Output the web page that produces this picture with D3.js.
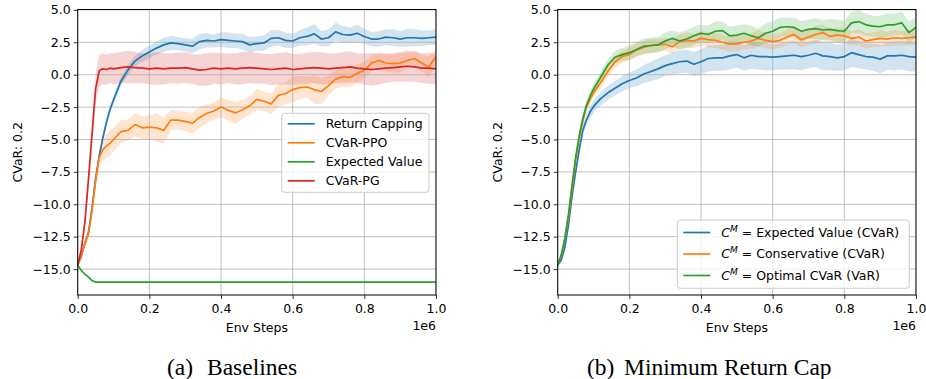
<!DOCTYPE html>
<html>
<head>
<meta charset="utf-8">
<script src="https://cdn.jsdelivr.net/npm/d3@7"></script>
<style>
body { margin: 0; background: #fff; }
text { font-family: "DejaVu Sans", sans-serif; fill: #000; }
</style>
</head>
<body>
<div id="chart"></div>
<script>
// env steps (x 1e6) shared by most runs
const steps = [0, 0.01, 0.02, 0.03, 0.04, 0.05, 0.06, 0.07, 0.08, 0.09, 0.10,
    0.12, 0.14, 0.16, 0.18, 0.20, 0.22, 0.24, 0.26, 0.28, 0.30,
    0.32, 0.34, 0.36, 0.38, 0.40, 0.42, 0.44, 0.46, 0.48, 0.50,
    0.52, 0.54, 0.56, 0.58, 0.60, 0.62, 0.64, 0.66, 0.68, 0.70,
    0.72, 0.74, 0.76, 0.78, 0.80, 0.82, 0.84, 0.86, 0.88, 0.90,
    0.92, 0.94, 0.96, 0.98, 1.00]

// (a) baselines
const returnCapping = [-14.7, -14.0, -13.0, -12.2, -10.3, -8.0, -6.3, -4.9, -3.7, -2.7, -1.95,
    -0.55, 0.35, 1.05, 1.45, 1.75, 2.05, 2.3, 2.45, 2.4, 2.3,
    2.2, 2.55, 2.65, 2.6, 2.7, 2.65, 2.6, 2.55, 2.3, 2.4,
    2.45, 2.8, 2.85, 2.65, 2.6, 2.85, 2.95, 3.15, 2.75, 2.85,
    3.3, 3.1, 3.05, 3.2, 2.95, 2.75, 2.75, 2.9, 2.85, 2.75,
    2.85, 2.85, 2.8, 2.85, 2.9]
const returnCappingSd = [0.1, 0.15, 0.2, 0.25, 0.3, 0.3, 0.3, 0.3, 0.35, 0.35, 0.35,
    0.35, 0.4, 0.4, 0.45, 0.5, 0.5, 0.55, 0.55, 0.5, 0.5,
    0.55, 0.6, 0.55, 0.5, 0.55, 0.6, 0.55, 0.6, 0.6, 0.55,
    0.6, 0.65, 0.6, 0.6, 0.55, 0.6, 0.7, 0.75, 0.6, 0.65,
    0.7, 0.65, 0.6, 0.65, 0.6, 0.55, 0.6, 0.6, 0.65, 0.6,
    0.7, 0.65, 0.6, 0.55, 0.6]

const cvarPPO = [-14.7, -14.0, -13.0, -12.3, -10.5, -8.2, -6.4, -5.8, -5.5, -5.3, -5.0,
    -4.4, -4.3, -3.85, -4.1, -4.05, -4.1, -4.3, -3.5, -3.5, -3.6,
    -3.75, -3.3, -3.0, -2.8, -2.5, -2.75, -2.95, -2.7, -2.4, -1.9,
    -2.05, -2.25, -1.6, -1.45, -1.15, -1.0, -0.95, -1.15, -1.3, -0.85,
    -0.35, -0.15, -0.2, 0.1, 0.35, 0.9, 1.1, 0.9, 0.85, 0.9,
    1.1, 1.25, 0.9, 0.6, 1.4]
const cvarPPOSd = [0.1, 0.2, 0.3, 0.4, 0.5, 0.6, 0.7, 0.8, 0.9, 1.0, 0.9,
    0.9, 0.8, 0.9, 0.85, 0.9, 1.1, 1.0, 0.8, 0.7, 0.75,
    0.8, 0.8, 0.7, 0.7, 0.75, 0.8, 0.85, 0.7, 0.7, 0.8,
    0.75, 0.8, 0.9, 0.85, 1.0, 0.9, 0.8, 1.1, 1.0, 0.8,
    0.7, 0.8, 0.75, 0.7, 0.65, 0.6, 0.6, 0.65, 0.7, 0.75,
    0.6, 0.6, 0.65, 0.8, 0.6]

const cvarPG = [-14.7, -13.5, -11.4, -8.1, -4.6, -1.1, 0.3, 0.45, 0.4, 0.5, 0.45,
    0.55, 0.6, 0.55, 0.5, 0.45, 0.5, 0.45, 0.5, 0.5, 0.55,
    0.45, 0.35, 0.4, 0.5, 0.45, 0.5, 0.45, 0.5, 0.55, 0.5,
    0.45, 0.4, 0.45, 0.5, 0.4, 0.45, 0.5, 0.55, 0.5, 0.45,
    0.5, 0.55, 0.6, 0.5, 0.45, 0.4, 0.45, 0.5, 0.55, 0.6,
    0.65, 0.6, 0.5, 0.5, 0.45]
const cvarPGSd = [0.1, 0.2, 0.4, 0.6, 0.9, 1.1, 1.2, 1.2, 1.15, 1.15, 1.2,
    1.2, 1.25, 1.2, 1.15, 1.2, 1.25, 1.2, 1.15, 1.2, 1.2,
    1.15, 1.2, 1.25, 1.2, 1.2, 1.15, 1.2, 1.25, 1.2, 1.2,
    1.15, 1.2, 1.2, 1.25, 1.2, 1.15, 1.2, 1.2, 1.25, 1.2,
    1.15, 1.2, 1.2, 1.15, 1.2, 1.25, 1.2, 1.15, 1.1, 1.15,
    1.2, 1.15, 1.15, 1.2, 1.15]

// expected value run is flat after the first drop
const expValSteps = [0, 0.01, 0.02, 0.03, 0.04, 0.05, 1.0]
const expVal = [-14.7, -15.1, -15.4, -15.6, -15.9, -16.0, -16.0]
const expValSd = [0.05, 0.05, 0.05, 0.05, 0.05, 0.05, 0.05]

// (b) minimum return cap
const capExpected = [-14.7, -14.3, -13.3, -11.6, -9.4, -7.5, -5.8, -4.3, -3.5, -2.9, -2.45,
    -1.85, -1.4, -1.05, -0.7, -0.45, -0.25, 0.05, 0.25, 0.45, 0.7,
    0.85, 1.0, 1.05, 0.8, 1.0, 1.25, 1.3, 1.3, 1.45, 1.55,
    1.3, 1.5, 1.4, 1.4, 1.35, 1.4, 1.45, 1.5, 1.4, 1.5,
    1.65, 1.45, 1.4, 1.3, 1.4, 1.7, 1.55, 1.4, 1.35, 1.2,
    1.45, 1.45, 1.5, 1.4, 1.35]
const capExpectedSd = [0.1, 0.15, 0.2, 0.25, 0.3, 0.35, 0.4, 0.4, 0.45, 0.45, 0.5,
    0.5, 0.55, 0.55, 0.6, 0.6, 0.65, 0.7, 0.75, 0.8, 0.8,
    0.85, 0.9, 0.9, 0.95, 0.95, 1.0, 1.0, 1.0, 1.05, 1.0,
    1.0, 1.05, 1.0, 1.05, 1.0, 1.0, 1.05, 1.1, 1.05, 1.0,
    1.05, 1.1, 1.05, 1.0, 1.05, 1.1, 1.05, 1.0, 1.05, 1.1,
    1.05, 1.1, 1.1, 1.15, 1.1]

const capConservative = [-14.7, -14.0, -12.7, -11.0, -8.8, -6.6, -4.9, -3.6, -2.5, -1.9, -1.4,
    -0.6, 0.25, 1.0, 1.4, 1.55, 1.9, 2.1, 2.25, 2.3, 2.35,
    2.15, 2.55, 2.65, 2.6, 2.8, 2.7, 2.65, 2.5, 2.35, 2.4,
    2.5, 2.6, 2.8, 2.65, 2.55, 2.65, 2.9, 3.1, 2.7, 2.9,
    3.1, 3.25, 2.95, 3.05, 3.0, 2.8, 2.9, 2.6, 2.7, 2.8,
    2.75, 2.85, 2.8, 2.85, 2.9]
const capConservativeSd = [0.1, 0.15, 0.2, 0.25, 0.3, 0.3, 0.3, 0.3, 0.35, 0.35, 0.35,
    0.4, 0.4, 0.45, 0.45, 0.5, 0.5, 0.5, 0.55, 0.5, 0.5,
    0.55, 0.55, 0.6, 0.55, 0.55, 0.6, 0.6, 0.55, 0.6, 0.6,
    0.55, 0.6, 0.65, 0.6, 0.6, 0.55, 0.6, 0.65, 0.6, 0.6,
    0.65, 0.6, 0.55, 0.6, 0.6, 0.55, 0.6, 0.6, 0.55, 0.6,
    0.55, 0.6, 0.55, 0.6, 0.55]

const capOptimal = [-14.7, -13.9, -12.6, -10.8, -8.5, -6.4, -4.7, -3.4, -2.4, -1.7, -1.1,
    -0.2, 0.75, 1.35, 1.55, 1.7, 1.95, 2.2, 2.25, 2.3, 2.6,
    2.8, 2.6, 2.75, 3.0, 3.2, 3.1, 3.35, 3.4, 3.0, 3.05,
    3.2, 3.0, 2.85, 3.2, 3.35, 3.65, 3.7, 3.65, 3.35, 3.5,
    3.55, 3.45, 3.5, 3.4, 3.35, 4.0, 4.1, 3.85, 3.75, 3.7,
    3.85, 3.85, 4.0, 3.25, 3.65]
const capOptimalSd = [0.1, 0.15, 0.2, 0.25, 0.3, 0.3, 0.35, 0.35, 0.4, 0.4, 0.4,
    0.45, 0.45, 0.5, 0.5, 0.55, 0.55, 0.6, 0.6, 0.6, 0.65,
    0.6, 0.65, 0.7, 0.7, 0.65, 0.7, 0.75, 0.7, 0.7, 0.75,
    0.7, 0.75, 0.7, 0.75, 0.8, 0.75, 0.7, 0.75, 0.8, 0.75,
    0.8, 0.75, 0.8, 0.85, 0.8, 0.85, 0.9, 0.85, 0.8, 0.85,
    0.9, 0.85, 0.9, 0.85, 0.8]

const xTicks = [0, 0.2, 0.4, 0.6, 0.8, 1.0]
const yTicks = [-15, -12.5, -10, -7.5, -5, -2.5, 0, 2.5, 5]

const blue = '#1f77b4', orange = '#ff7f0e', green = '#2ca02c', red = '#d62728'

const baselines = [
    { name: 'Return Capping', color: blue, x: steps, y: returnCapping, sd: returnCappingSd },
    { name: 'CVaR-PPO', color: orange, x: steps, y: cvarPPO, sd: cvarPPOSd },
    { name: 'Expected Value', color: green, x: expValSteps, y: expVal, sd: expValSd },
    { name: 'CVaR-PG', color: red, x: steps, y: cvarPG, sd: cvarPGSd }
]
const capRuns = [
    { name: 'Expected Value (CVaR)', color: blue, x: steps, y: capExpected, sd: capExpectedSd },
    { name: 'Conservative (CVaR)', color: orange, x: steps, y: capConservative, sd: capConservativeSd },
    { name: 'Optimal CVaR (VaR)', color: green, x: steps, y: capOptimal, sd: capOptimalSd }
]

const svg = d3.select('#chart').append('svg')
    .attr('width', 926)
    .attr('height', 379)

const plotTop = 9.5, plotBottom = 295
const fs = 12.5

function drawPanel(id, left, right, runs, legend, capTag, capText, capX, capTextX) {
    const xScale = d3.scaleLinear().domain([0, 1]).range([left, right])
    const yScale = d3.scaleLinear().domain([-17.0, 5.03]).range([plotBottom, plotTop])
    const g = svg.append('g')

    g.append('clipPath').attr('id', 'clip' + id)
        .append('rect')
        .attr('x', left).attr('y', plotTop)
        .attr('width', right - left).attr('height', plotBottom - plotTop)

    const rows = runs.map(r => r.x.map((x, i) => ({ x: x, y: r.y[i], sd: r.sd[i] })))

    const area = d3.area()
        .x(d => xScale(d.x))
        .y0(d => yScale(d.y - d.sd))
        .y1(d => yScale(d.y + d.sd))
    const line = d3.line()
        .x(d => xScale(d.x))
        .y(d => yScale(d.y))

    const plot = g.append('g').attr('clip-path', `url(#clip${id})`)
    plot.selectAll('.band')
        .data(rows)
        .enter().append('path')
        .attr('d', area)
        .attr('fill', (d, i) => runs[i].color)
        .attr('fill-opacity', 0.2)

    // grid sits above the bands, below the lines
    plot.selectAll('.vgrid')
        .data(xTicks)
        .enter().append('line')
        .attr('x1', d => xScale(d)).attr('x2', d => xScale(d))
        .attr('y1', plotTop).attr('y2', plotBottom)
        .attr('stroke', '#b0b0b0').attr('stroke-width', 0.8)
    plot.selectAll('.hgrid')
        .data(yTicks)
        .enter().append('line')
        .attr('x1', left).attr('x2', right)
        .attr('y1', d => yScale(d)).attr('y2', d => yScale(d))
        .attr('stroke', '#b0b0b0').attr('stroke-width', 0.8)

    plot.selectAll('.run')
        .data(rows)
        .enter().append('path')
        .attr('d', line)
        .attr('fill', 'none')
        .attr('stroke', (d, i) => runs[i].color)
        .attr('stroke-width', 1.7)
        .attr('stroke-linejoin', 'round')

    const xAxis = d3.axisBottom(xScale).tickValues(xTicks).tickFormat(d3.format('.1f'))
        .tickSize(4).tickPadding(5)
    const yAxis = d3.axisLeft(yScale).tickValues(yTicks).tickFormat(d3.format('.1f'))
        .tickSize(4).tickPadding(3)

    const gx = g.append('g').attr('transform', `translate(0,${plotBottom})`).call(xAxis)
    const gy = g.append('g').attr('transform', `translate(${left},0)`).call(yAxis)
    for (const a of [gx, gy]) {
        a.select('.domain').remove()
        a.selectAll('text').style('font-size', fs + 'px').style('font-family', '"DejaVu Sans", sans-serif')
        a.selectAll('line').attr('stroke', '#000').attr('stroke-width', 0.8)
    }

    g.append('rect')
        .attr('x', left).attr('y', plotTop)
        .attr('width', right - left).attr('height', plotBottom - plotTop)
        .attr('fill', 'none').attr('stroke', '#000').attr('stroke-width', 1)

    g.append('text')
        .attr('x', (left + right) / 2).attr('y', 332)
        .attr('text-anchor', 'middle')
        .style('font-size', fs + 'px')
        .text('Env Steps')
    g.append('text')
        .attr('x', right).attr('y', 330)
        .attr('text-anchor', 'end')
        .style('font-size', fs + 'px')
        .text('1e6')
    g.append('text')
        .attr('transform', `translate(${left - 56},${(plotTop + plotBottom) / 2}) rotate(-90)`)
        .attr('text-anchor', 'middle')
        .style('font-size', fs + 'px')
        .text('CVaR: 0.2')

    // legend
    const lg = g.append('g')
    lg.append('rect')
        .attr('x', legend.x).attr('y', legend.y)
        .attr('width', legend.w).attr('height', legend.h)
        .attr('rx', 3)
        .attr('fill', '#fff').attr('fill-opacity', 0.8)
        .attr('stroke', '#cccccc').attr('stroke-width', 1)
    const item = lg.selectAll('.legend')
        .data(runs)
        .enter().append('g')
        .attr('transform', (d, i) => `translate(${legend.x},${legend.y + legend.first + i * legend.step})`)
    item.append('line')
        .attr('x1', 6).attr('x2', 33)
        .attr('stroke', d => d.color).attr('stroke-width', 1.7)
    const label = item.append('text')
        .attr('x', 44).attr('dy', '0.35em')
        .style('font-size', fs + 'px')
    if (legend.cm) {
        label.append('tspan').style('font-style', 'italic').text('C')
        label.append('tspan').style('font-style', 'italic').style('font-size', '9px')
            .attr('dy', -5).text('M')
        label.append('tspan').attr('dy', 5).text(d => ' = ' + d.name)
    } else {
        label.text(d => d.name)
    }

    const cap = svg.append('text')
        .attr('y', 375)
        .style('font-family', '"Liberation Serif", "Times New Roman", serif')
        .style('font-size', '23.5px')
    cap.append('tspan').attr('x', capX).text(capTag)
    cap.append('tspan').attr('x', capTextX).text(capText)
}

drawPanel('a', 77.7, 436, baselines,
    { x: 281.7, y: 113.3, w: 147.3, h: 79, first: 10.5, step: 19, cm: false },
    '(a)', 'Baselines', 167, 207)
drawPanel('b', 557.7, 916, capRuns,
    { x: 677.3, y: 220, w: 232, h: 68.3, first: 12.5, step: 21.5, cm: true },
    '(b)', 'Minimum Return Cap', 587, 624)
</script>
</body>
</html>
